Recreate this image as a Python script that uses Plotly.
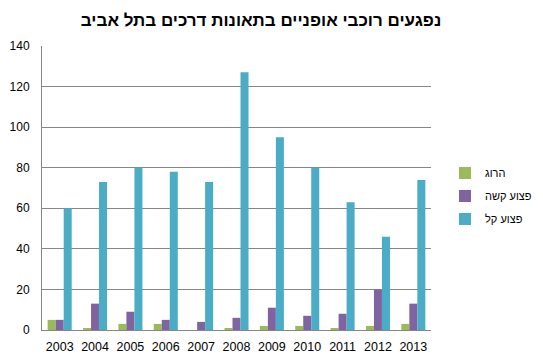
import plotly.graph_objects as go

years = ["2003", "2004", "2005", "2006", "2007", "2008", "2009", "2010", "2011", "2012", "2013"]
killed = [5, 1, 3, 3, 0, 1, 2, 2, 1, 2, 3]
severe = [5, 13, 9, 5, 4, 6, 11, 7, 8, 20, 13]
light = [60, 73, 80, 78, 73, 127, 95, 80, 63, 46, 74]

series_names = ["הרוג", "פצוע קשה", "פצוע קל"]
colors = ["#9BBB59", "#8064A2", "#4BACC6"]
title = "נפגעים רוכבי אופניים בתאונות דרכים בתל אביב"

fig = go.Figure()
for i, (name, vals) in enumerate(zip(series_names, [killed, severe, light])):
    fig.add_trace(go.Bar(x=years, y=vals, name=name, marker_color=colors[i],
                         marker_line_width=0, legendgroup=str(i)))

# page body has an 8px margin; figure is sized to fill the rest of the window
fig.update_layout(
    width=535, height=351,
    margin=dict(l=34, r=112, t=38, b=29, autoexpand=False),
    paper_bgcolor="white", plot_bgcolor="white",
    barmode="group", bargap=0.32, bargroupgap=0,
    font=dict(family="Liberation Sans, Arial, sans-serif", size=12, color="#000000"),
    title=dict(text=title, x=0.473, xanchor="center", y=0.966, yanchor="middle",
               font=dict(size=17, family="Liberation Sans, Arial, sans-serif", color="#000000", weight="bold")),
    legend=dict(x=1.036, y=0.472, xanchor="left", yanchor="middle",
                font=dict(size=11), traceorder="grouped", tracegroupgap=4,
                itemwidth=30),
    showlegend=True,
)
fig.update_xaxes(showline=True, linecolor="#868686", linewidth=1, ticks="",
                 tickfont=dict(size=12.5), showgrid=False, automargin=False,
                 ticklabelstandoff=5)
fig.update_yaxes(range=[0, 140], dtick=20, showline=True, linecolor="#868686", linewidth=1,
                 showgrid=True, gridcolor="#868686", gridwidth=1, ticks="",
                 tickfont=dict(size=12), zeroline=False, ticklabelstandoff=9,
                 automargin=False)

fig.write_html("out.html")
